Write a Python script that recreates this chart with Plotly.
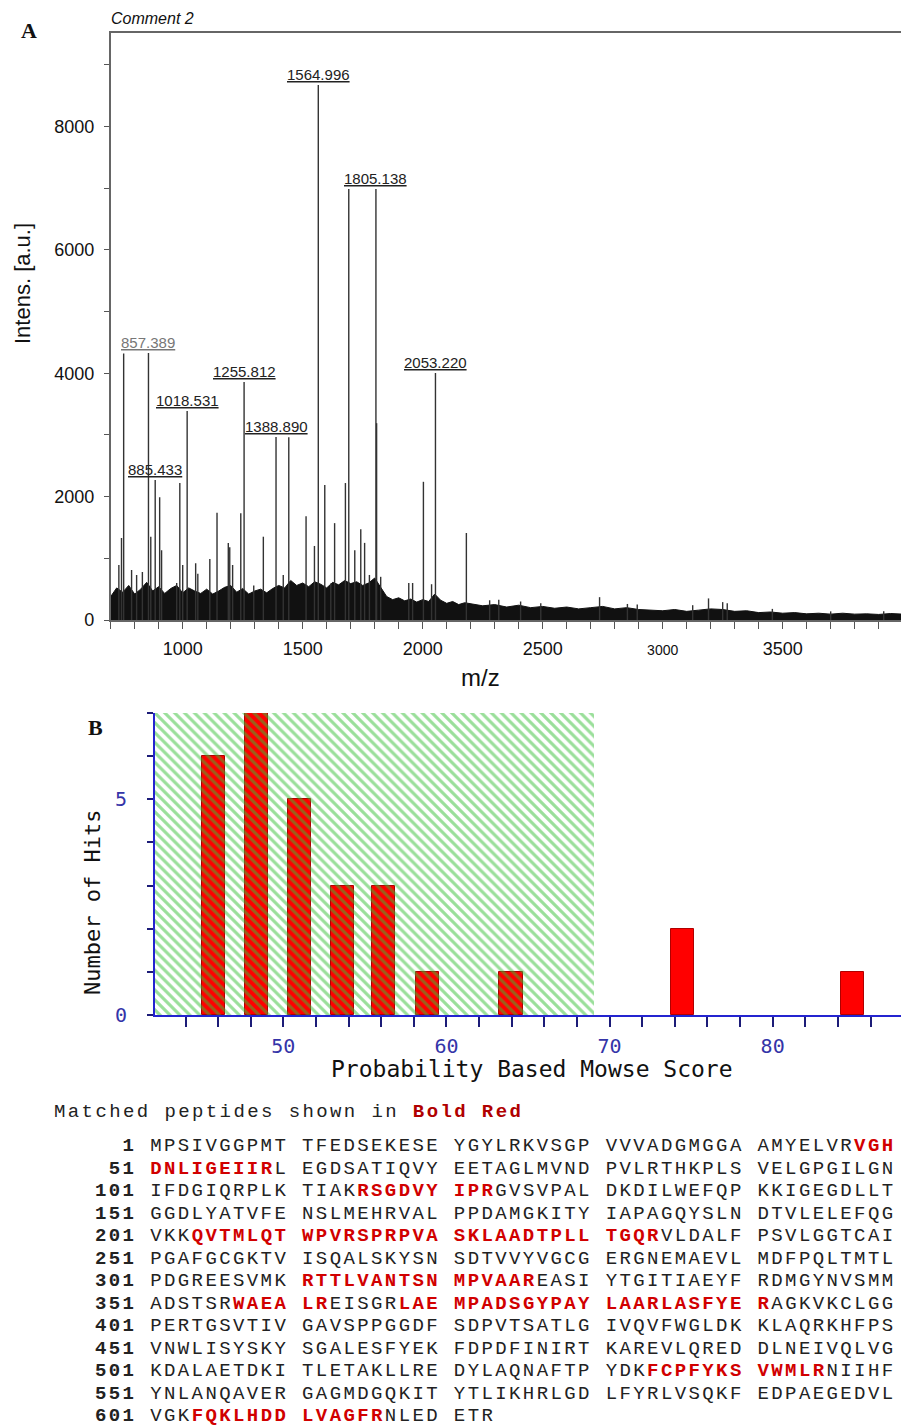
import plotly.graph_objects as go

W, H = 901, 1427

# ---------------- Panel A : MALDI-TOF spectrum ----------------
peak_mz = [734, 745, 754, 787, 808, 832, 867, 904, 912, 975, 988, 1000, 1054, 1063,
           1113, 1143, 1190, 1196, 1208, 1242, 1296, 1336, 1419, 1442, 1514, 1549,
           1592, 1617, 1633, 1678, 1692, 1717, 1742, 1758, 1778, 1808, 1825, 1942,
           1958, 2003, 2037, 2182, 2279, 2317, 2408, 2492, 2737, 2853, 2894, 3125,
           3191, 3250, 3269, 3457, 3700, 3921]
peak_int = [890, 1330, 4320, 810, 730, 780, 1350, 1990, 1130, 600, 2220, 890, 920, 750,
            990, 1740, 1250, 1180, 890, 1730, 560, 1350, 730, 2960, 1680, 1200,
            2190, 590, 1570, 2220, 6985, 1130, 1470, 1250, 730, 3190, 700, 600,
            600, 2240, 580, 1410, 320, 330, 300, 270, 370, 260, 250, 240,
            350, 290, 270, 180, 140, 140]

label_mz = [857.389, 885.433, 1018.531, 1255.812, 1388.890, 1564.996, 1805.138, 2053.220]
label_int = [4327, 2269, 3387, 3857, 2966, 8671, 6985, 4003]

noise_mz = [700, 725, 750, 775, 800, 825, 850, 875, 900, 925, 950, 975, 1000, 1025, 1050,
            1075, 1100, 1125, 1150, 1175, 1200, 1225, 1250, 1275, 1300, 1325, 1350, 1375,
            1400, 1425, 1450, 1475, 1500, 1525, 1550, 1575, 1600, 1625, 1650, 1675, 1700,
            1725, 1750, 1775, 1800, 1825, 1850, 1875, 1900, 1925, 1950, 1975, 2000, 2025,
            2050, 2075, 2100, 2125, 2150, 2175, 2200, 2250, 2300, 2350, 2400, 2450, 2500,
            2550, 2600, 2650, 2700, 2750, 2800, 2850, 2900, 2950, 3000, 3050, 3100, 3150,
            3200, 3250, 3300, 3350, 3400, 3450, 3500, 3550, 3600, 3650, 3700, 3750, 3800,
            3850, 3900, 3950, 4000]
noise_int = [380, 520, 450, 560, 420, 500, 610, 470, 540, 430, 510, 560, 440, 520, 470,
             430, 500, 420, 470, 530, 560, 450, 510, 420, 470, 500, 440, 510,
             560, 520, 640, 560, 600, 540, 620, 580, 520, 610, 570, 640, 590,
             620, 560, 600, 680, 520, 380, 330, 360, 310, 340, 290, 330, 300,
             420, 320, 270, 300, 250, 280, 260, 230, 250, 210, 240, 200, 220,
             190, 210, 180, 200, 220, 180, 200, 170, 160, 150, 170, 140, 160,
             180, 170, 140, 150, 120, 130, 110, 120, 100, 110, 95, 110, 95,
             100, 90, 105, 95]

mz_ticks = list(range(700, 4000, 100))
mz_major = [1000, 1500, 2000, 2500, 3000, 3500]
int_ticks = list(range(0, 10000, 1000))
int_major = [0, 2000, 4000, 6000, 8000]

# ---------------- Panel B : Mascot score histogram ----------------
score_bins = [45.7, 48.35, 50.98, 53.64, 56.16, 58.83, 63.96, 74.45, 84.9]
hits = [6, 7, 5, 3, 3, 1, 1, 2, 1]
threshold = 69.07
hits_max = 7
score_ticks = list(range(42, 88, 2))
score_major = [50, 60, 70, 80]
hit_ticks = list(range(0, 8))
hit_major = [0, 5]

# ---------------- Sequence ----------------
seq_groups = [
    "MPSIVGGPMT", "TFEDSEKESE", "YGYLRKVSGP", "VVVADGMGGA", "AMYELVRVGH",
    "DNLIGEIIRL", "EGDSATIQVY", "EETAGLMVND", "PVLRTHKPLS", "VELGPGILGN",
    "IFDGIQRPLK", "TIAKRSGDVY", "IPRGVSVPAL", "DKDILWEFQP", "KKIGEGDLLT",
    "GGDLYATVFE", "NSLMEHRVAL", "PPDAMGKITY", "IAPAGQYSLN", "DTVLELEFQG",
    "VKKQVTMLQT", "WPVRSPRPVA", "SKLAADTPLL", "TGQRVLDALF", "PSVLGGTCAI",
    "PGAFGCGKTV", "ISQALSKYSN", "SDTVVYVGCG", "ERGNEMAEVL", "MDFPQLTMTL",
    "PDGREESVMK", "RTTLVANTSN", "MPVAAREASI", "YTGITIAEYF", "RDMGYNVSMM",
    "ADSTSRWAEA", "LREISGRLAE", "MPADSGYPAY", "LAARLASFYE", "RAGKVKCLGG",
    "PERTGSVTIV", "GAVSPPGGDF", "SDPVTSATLG", "IVQVFWGLDK", "KLAQRKHFPS",
    "VNWLISYSKY", "SGALESFYEK", "FDPDFINIRT", "KAREVLQRED", "DLNEIVQLVG",
    "KDALAETDKI", "TLETAKLLRE", "DYLAQNAFTP", "YDKFCPFYKS", "VWMLRNIIHF",
    "YNLANQAVER", "GAGMDGQKIT", "YTLIKHRLGD", "LFYRLVSQKF", "EDPAEGEDVL",
    "VGKFQKLHDD", "LVAGFRNLED", "ETR",
]
matched = [(48, 59), (115, 123), (204, 234), (311, 326), (357, 362),
           (368, 391), (534, 545), (604, 616)]

RED = "#d10000"
NB = "\u00a0"
SEQ_FONT = dict(family="Liberation Mono", size=19, color="#222")
SPACING = "<span style='letter-spacing:2.4px'>{}</span>"


def px(x):
    return x / W


def py(y):
    return 1 - y / H


def paper_text(x, y, text, font, **kw):
    d = dict(x=px(x), y=py(y), xref="paper", yref="paper", text=text, showarrow=False,
             xanchor="center", yanchor="middle", font=font)
    d.update(kw)
    return d


fig = go.Figure()

# noise band
fig.add_trace(go.Scatter(x=noise_mz, y=noise_int, mode="lines",
                         line=dict(color="#111111", width=1),
                         fill="tozeroy", fillcolor="#111111",
                         xaxis="x", yaxis="y", hoverinfo="skip"))
# peak sticks
sx, sy = [], []
for m, h in list(zip(peak_mz, peak_int)) + list(zip(label_mz, label_int)):
    sx += [m, m, None]
    sy += [0, h, None]
fig.add_trace(go.Scatter(x=sx, y=sy, mode="lines",
                         line=dict(color="#333333", width=1.4),
                         xaxis="x", yaxis="y", hoverinfo="skip"))

# Panel B bars
fig.add_trace(go.Bar(x=score_bins, y=hits, width=1.42,
                     marker=dict(color="#ff0000", line=dict(color="#b00000", width=1)),
                     xaxis="x2", yaxis="y2"))
xb0 = 42.13
fig.add_trace(go.Bar(x=[(xb0 + threshold) / 2], y=[hits_max], width=[threshold - xb0],
                     marker=dict(color="rgba(0,0,0,0)", line=dict(width=0),
                                 pattern=dict(shape="\\", fgcolor="#35c035", size=7,
                                              solidity=0.45, fillmode="overlay")),
                     xaxis="x2", yaxis="y2"))

annotations = []
# peak labels
for m, h in zip(label_mz, label_int):
    col = "#777777" if m < 860 else "#222222"
    annotations.append(dict(x=m, y=h, xref="x", yref="y", text=f"<u>{m:.3f}</u>",
                            showarrow=False, yanchor="bottom", xanchor="center",
                            font=dict(family="Liberation Sans", size=15, color=col)))

annotations += [
    paper_text(29, 30, "<b>A</b>", dict(family="Liberation Serif", size=22, color="#111")),
    paper_text(109, 19, "<i>Comment 2</i>", dict(family="Liberation Sans", size=16, color="#111"),
               xanchor="left"),
    paper_text(22, 284, "Intens. [a.u.]", dict(family="Liberation Sans", size=22, color="#111"),
               textangle=-90),
    paper_text(481, 677, "m/z", dict(family="Liberation Sans", size=24, color="#111")),
    paper_text(95, 727, "<b>B</b>", dict(family="Liberation Serif", size=22, color="#111")),
    paper_text(92, 903, "Number of Hits", dict(family="DejaVu Sans Mono", size=22, color="#111"),
               textangle=-90),
    paper_text(532, 1069, "Probability Based Mowse Score",
               dict(family="DejaVu Sans Mono", size=23, color="#111")),
    paper_text(52, 1112,
               SPACING.format("Matched" + NB + "peptides" + NB + "shown" + NB + "in" + NB
                              + "<b><span style='color:#b00000'>Bold" + NB + "Red</span></b>"),
               SEQ_FONT, xanchor="left"),
]

# sequence rows
residues = "".join(seq_groups)
hl = [False] * len(residues)
for a, b in matched:
    for k in range(a - 1, b):
        hl[k] = True

n_rows = (len(residues) + 49) // 50
for r in range(n_rows):
    start = r * 50
    chars = []
    for k in range(start, min(start + 50, len(residues))):
        if k > start and (k - start) % 10 == 0:
            chars.append((NB, hl[k] and hl[k - 1]))
        chars.append((residues[k], hl[k]))
    html = "<b>" + str(start + 1).rjust(3).replace(" ", NB) + "</b>" + NB
    cur, buf = None, ""
    for c, h in chars + [(None, None)]:
        if h != cur:
            if buf:
                html += f"<b><span style='color:{RED}'>{buf}</span></b>" if cur else buf
            buf, cur = "", h
        if c is not None:
            buf += c
    annotations.append(paper_text(93, 1146 + 22.5 * r, SPACING.format(html), SEQ_FONT,
                                  xanchor="left"))

mz_text = []
for t in mz_ticks:
    if t == 3000:
        mz_text.append("<span style='font-size:14px'>3000</span>")
    elif t in mz_major:
        mz_text.append(str(t))
    else:
        mz_text.append("")

BLUE = "#2424d0"
NAVY = "#1c1c78"
fig.update_layout(
    width=W, height=H, margin=dict(l=0, r=0, t=0, b=0, pad=0, autoexpand=False),
    paper_bgcolor="white", plot_bgcolor="white", showlegend=False,
    barmode="overlay", bargap=0,
    xaxis=dict(domain=[110.7 / W, 1], range=[700, 3993], anchor="y", automargin=False,
               tickmode="array", tickvals=mz_ticks, ticktext=mz_text,
               ticks="outside", ticklen=7, tickcolor="#555", tickwidth=1,
               ticklabelstandoff=5,
               showline=True, linecolor="#666", linewidth=1.5, mirror=True,
               showgrid=False, zeroline=False,
               tickfont=dict(family="Liberation Sans", size=18, color="#111")),
    yaxis=dict(domain=[py(620), py(33)], range=[0, 9514], anchor="x", automargin=False,
               tickmode="array", tickvals=int_ticks,
               ticktext=[str(t) if t in int_major else "" for t in int_ticks],
               ticks="outside", ticklen=5, tickcolor="#555", tickwidth=1,
               ticklabelstandoff=6,
               showline=True, linecolor="#666", linewidth=1.5,
               showgrid=False, zeroline=False,
               tickfont=dict(family="Liberation Sans", size=18, color="#111")),
    xaxis2=dict(domain=[155 / W, 1], range=[xb0, 87.87], anchor="y2", automargin=False,
                tickmode="array", tickvals=score_ticks,
                ticktext=[str(t) if t in score_major else "" for t in score_ticks],
                ticks="outside", ticklen=10, tickcolor=NAVY, tickwidth=2,
                ticklabelstandoff=2,
                showline=True, linecolor=BLUE, linewidth=2,
                showgrid=False, zeroline=False,
                tickfont=dict(family="DejaVu Sans Mono", size=20, color="#3434a8")),
    yaxis2=dict(domain=[py(1015), py(713)], range=[0, hits_max], anchor="x2", automargin=False,
                tickmode="array", tickvals=hit_ticks,
                ticktext=[str(t) if t in hit_major else "" for t in hit_ticks],
                ticks="outside", ticklen=6, tickcolor=NAVY, tickwidth=2,
                ticklabelstandoff=16,
                showline=True, linecolor=BLUE, linewidth=2,
                showgrid=False, zeroline=False,
                tickfont=dict(family="DejaVu Sans Mono", size=20, color="#3434a8")),
    annotations=annotations,
)

fig.write_html("out.html", config={"displayModeBar": False},
               post_script="document.body.style.margin='0px';document.body.style.padding='0px';")
